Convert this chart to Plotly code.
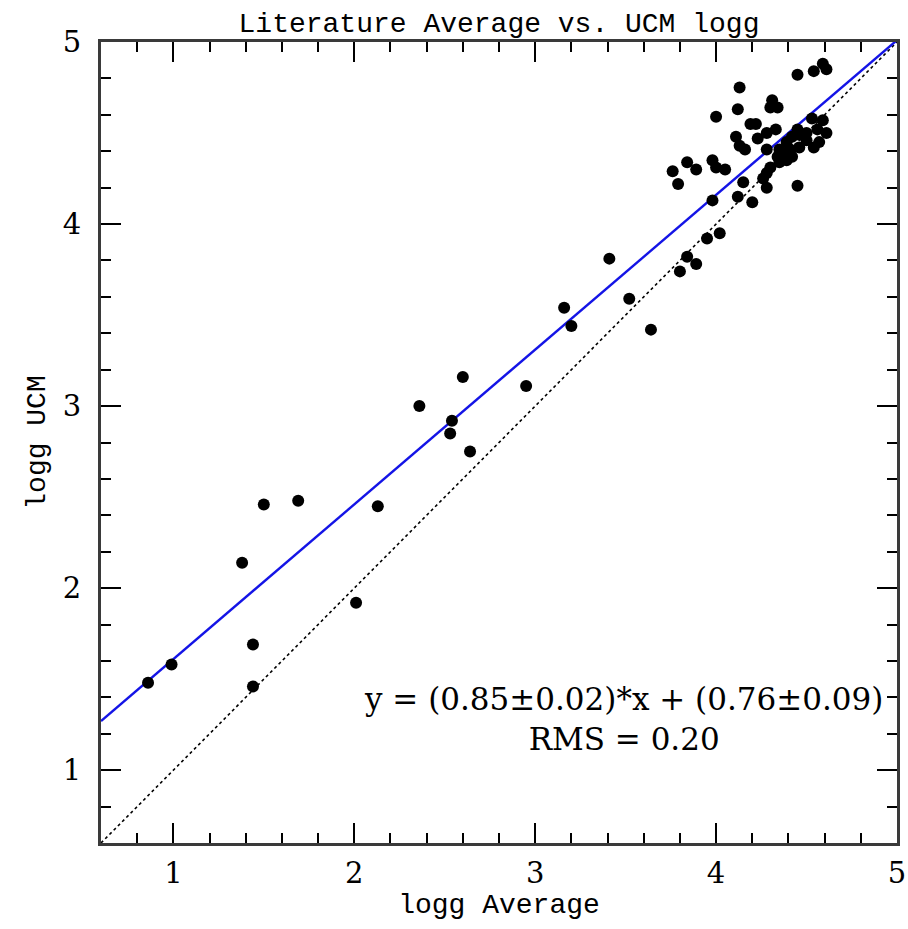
import plotly.graph_objects as go

# Literature average logg (x) vs UCM logg (y)
lit_avg = [0.86, 0.99, 1.38, 1.44, 1.44, 1.50, 1.69, 2.01, 2.13, 2.36, 2.54, 2.53, 2.60, 2.64,
           2.95, 3.16, 3.20, 3.41, 3.52, 3.64,
           3.80, 3.89, 3.84, 3.95, 4.02, 3.98, 4.12, 4.20, 4.15, 4.28, 4.45,
           3.76, 3.79, 3.84, 3.89, 3.98, 4.00, 4.05,
           4.00, 4.13, 4.12, 4.31, 4.34, 4.30, 4.19, 4.22,
           4.45, 4.54, 4.59, 4.61,
           4.11, 4.13, 4.16, 4.23, 4.28, 4.33, 4.28, 4.35, 4.39, 4.42, 4.45, 4.50,
           4.53, 4.59, 4.61, 4.57, 4.54, 4.46, 4.42, 4.39, 4.35, 4.30, 4.28, 4.26,
           4.41, 4.50, 4.56, 4.46, 4.34, 4.39]
ucm = [1.48, 1.58, 2.14, 1.69, 1.46, 2.46, 2.48, 1.92, 2.45, 3.00, 2.92, 2.85, 3.16, 2.75,
       3.11, 3.54, 3.44, 3.81, 3.59, 3.42,
       3.74, 3.78, 3.82, 3.92, 3.95, 4.13, 4.15, 4.12, 4.23, 4.20, 4.21,
       4.29, 4.22, 4.34, 4.30, 4.35, 4.31, 4.30,
       4.59, 4.75, 4.63, 4.68, 4.64, 4.64, 4.55, 4.55,
       4.82, 4.84, 4.88, 4.85,
       4.48, 4.43, 4.41, 4.47, 4.50, 4.52, 4.41, 4.41, 4.45, 4.48, 4.52, 4.50,
       4.58, 4.57, 4.50, 4.45, 4.42, 4.42, 4.37, 4.35, 4.34, 4.31, 4.28, 4.25,
       4.41, 4.46, 4.52, 4.49, 4.37, 4.39]

# Fit parameters
fit_slope = 0.85
fit_intercept = 0.76
axis_range = [0.6, 5.0]
tick_vals = [1, 2, 3, 4, 5]
tick_text = ["1", "2", "3", "4", "5"]

fit_x = axis_range
fit_y = [fit_slope * v + fit_intercept for v in fit_x]

fig = go.Figure()
fig.add_trace(go.Scatter(x=axis_range, y=axis_range, mode="lines",
                         line=dict(color="black", width=1.6, dash="dot"),
                         showlegend=False, hoverinfo="skip"))
fig.add_trace(go.Scatter(x=fit_x, y=fit_y, mode="lines",
                         line=dict(color="#1414e6", width=2.4),
                         showlegend=False, hoverinfo="skip"))
fig.add_trace(go.Scatter(x=lit_avg, y=ucm, mode="markers",
                         marker=dict(color="black", size=12),
                         showlegend=False))

label_font = "Liberation Mono"
tick_font = "DejaVu Serif"
axis_common = dict(
    range=axis_range, tickvals=tick_vals, ticktext=tick_text,
    ticks="inside", ticklen=20, tickwidth=1.6, tickcolor="black",
    showline=True, linecolor="#3a3a3a", linewidth=3, mirror="allticks",
    showgrid=False, zeroline=False, automargin=False,
    tickfont=dict(family=tick_font, size=29, color="black"),
    minor=dict(dtick=0.2, ticks="inside", ticklen=10, tickwidth=1.6, tickcolor="black", showgrid=False),
)

fig.update_layout(
    width=908, height=929,
    margin=dict(l=101, r=11, t=42, b=86),
    paper_bgcolor="white", plot_bgcolor="white",
    title=dict(text="Literature Average vs. UCM logg", xref="paper", x=0.5, xanchor="center",
               y=0.976, yanchor="middle",
               font=dict(family=label_font, size=28, color="black")),
    xaxis=dict(**axis_common, ticklabelstandoff=2,
               title=dict(text="logg Average", font=dict(family=label_font, size=28, color="black"), standoff=5)),
    yaxis=dict(**axis_common, ticklabelstandoff=11,
               title=dict(text="logg UCM", font=dict(family=label_font, size=28, color="black"), standoff=9)),
    annotations=[dict(text="y = (0.85±0.02)*x + (0.76±0.09)<br>RMS = 0.20",
                      x=3.49, y=1.28, xref="x", yref="y", showarrow=False,
                      xanchor="center", yanchor="middle", align="center",
                      font=dict(family="DejaVu Serif", size=31, color="black"))],
)

fig.write_html("out.html")
